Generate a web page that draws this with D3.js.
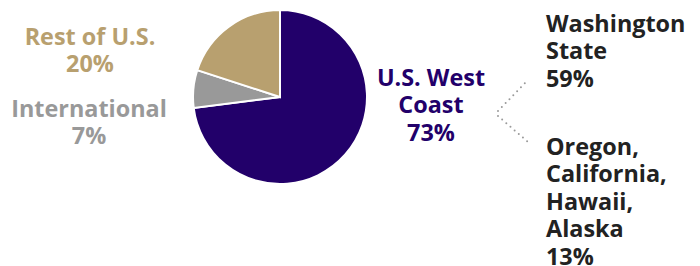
<!DOCTYPE html>
<html><head><meta charset="utf-8">
<script src="https://cdn.jsdelivr.net/npm/d3@7"></script>
<style>body{margin:0;background:#fff}svg{display:block}</style>
</head><body>
<svg id="c" width="700" height="266"></svg>
<script>
const categories = ["U.S. West Coast", "International", "Rest of U.S."];
const values = [73, 7, 20];
const colors = ["#22006a", "#999999", "#b8a06f"];
const labelLines = [["U.S. West", "Coast", "73%"], ["International", "7%"], ["Rest of U.S.", "20%"]];
const subCategories = [["Washington", "State", "59%"], ["Oregon,", "California,", "Hawaii,", "Alaska", "13%"]];

const svg = d3.select("#c");
const cx = 280, cy = 97, r = 87;
const pie = d3.pie().sort(null).value(d => d)(values);
const arc = d3.arc().innerRadius(0).outerRadius(r);
const g = svg.append("g").attr("transform", `translate(${cx},${cy})`);
g.selectAll("path").data(pie).join("path")
  .attr("d", arc).attr("fill", (d, i) => colors[i])
  .attr("stroke", "#fff").attr("stroke-width", 2).attr("stroke-linejoin", "miter");

const font = "'Open Sans', sans-serif";
const lh = 27.4;
function block(lines, x, y, anchor, color) {
  const t = svg.append("text").attr("x", x).attr("y", y)
    .attr("text-anchor", anchor).attr("fill", color)
    .style("font-family", font).style("font-weight", 700).style("font-size", "23.4px");
  lines.forEach((s, i) => t.append("tspan").attr("x", x).attr("y", y + i * lh).text(s));
}
block(labelLines[0], 431, 86, "middle", colors[0]);
block(labelLines[1], 89, 117, "middle", colors[1]);
block(labelLines[2], 90, 45, "middle", colors[2]);
block(subCategories[0], 546, 32, "start", "#222222");
block(subCategories[1], 546, 155, "start", "#222222");

const dot = { stroke: "#9a9a9a", "stroke-width": 2, "stroke-dasharray": "0 5.5", "stroke-linecap": "round" };
[[[498, 111], [528, 80]], [[498, 116], [528, 142]]].forEach(p => {
  const l = svg.append("path").attr("d", d3.line()(p)).attr("fill", "none");
  Object.entries(dot).forEach(([k, v]) => l.attr(k, v));
});
</script>
</body></html>
